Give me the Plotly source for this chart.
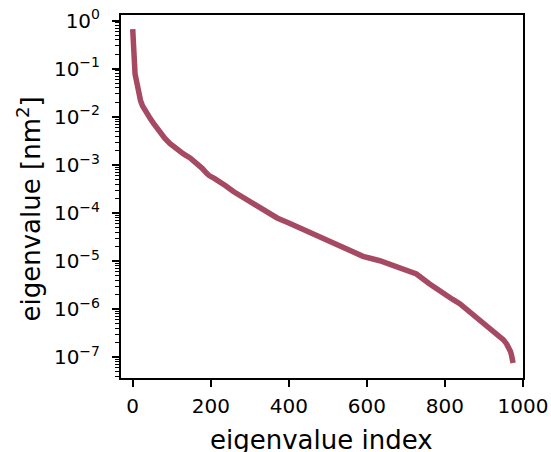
import plotly.graph_objects as go

eig_index = [0, 1, 2, 3, 4, 6, 8, 10, 12, 15, 20, 25, 31, 38, 45, 53, 61, 70, 82, 95,
             110, 130, 147, 164, 178, 189, 196, 210, 224, 238, 258, 288, 315, 343, 370,
             400, 437, 460, 480, 505, 530, 556, 590, 633, 650, 676, 700, 727, 760, 795,
             820, 838, 855, 872, 890, 906, 925, 940, 950, 958, 964, 968, 971, 973, 974.5]
eig_value = [0.67, 0.30, 0.17, 0.12, 0.095, 0.078, 0.065, 0.052, 0.043, 0.033, 0.022, 0.017,
             0.0138, 0.0112, 0.0092, 0.0074, 0.0059, 0.0046, 0.0036, 0.0028,
             0.0022, 0.0017, 0.0014, 0.0011, 0.00085, 0.00068, 0.00060, 0.00052, 0.00045,
             0.00037, 0.00028, 0.00020, 0.000145, 0.000100, 0.000079,
             0.000062, 0.000045, 0.000038, 0.000032, 0.000026, 0.000020, 0.0000158,
             0.0000126, 0.0000102, 0.0000091, 0.0000078, 0.0000066, 0.0000054,
             0.0000034, 0.0000021, 0.0000016, 0.0000013, 0.0000010, 0.00000076,
             0.00000060, 0.00000047, 0.00000035, 0.00000027, 0.00000023, 0.00000019,
             0.000000158, 0.000000132, 0.000000107, 0.000000089, 0.000000076]

x_ticks = [0, 200, 400, 600, 800, 1000]
y_ticks = [1e0, 1e-1, 1e-2, 1e-3, 1e-4, 1e-5, 1e-6, 1e-7]
y_ticktext = ["10<sup>0</sup>", "10<sup>−1</sup>", "10<sup>−2</sup>", "10<sup>−3</sup>",
              "10<sup>−4</sup>", "10<sup>−5</sup>", "10<sup>−6</sup>", "10<sup>−7</sup>"]
y_minor = [m * 10.0 ** e for e in range(-8, 1) for m in range(2, 10)]
x_title = "eigenvalue index"
y_title = "eigenvalue [nm<sup>2</sup>]"

fig = go.Figure()
fig.add_trace(go.Scatter(x=eig_index, y=eig_value, mode="lines",
                         line=dict(color="#a64a64", width=5.5), showlegend=False))

font = "DejaVu Sans, sans-serif"
fig.update_layout(
    width=551, height=452,
    margin=dict(l=121, r=28, t=15, b=74, autoexpand=False),
    paper_bgcolor="white", plot_bgcolor="white",
    font=dict(family=font, color="black", size=20),
    xaxis=dict(range=[-30, 1000], tickmode="array", tickvals=x_ticks, automargin=False,
               ticks="outside", ticklen=7, tickwidth=2, tickcolor="black",
               ticklabelstandoff=2,
               showline=True, linewidth=2, linecolor="black", mirror=True,
               showgrid=False, zeroline=False,
               tickfont=dict(size=20, family=font)),
    yaxis=dict(type="log", range=[-7.43, 0.118], tickmode="array", tickvals=y_ticks,
               ticktext=y_ticktext, automargin=False,
               ticks="outside", ticklen=7, tickwidth=2, tickcolor="black",
               ticklabelstandoff=8,
               minor=dict(tickmode="array", tickvals=y_minor, ticks="outside", ticklen=4,
                          tickwidth=1.3, tickcolor="black", showgrid=False),
               showline=True, linewidth=2, linecolor="black", mirror=True,
               showgrid=False, zeroline=False,
               tickfont=dict(size=20, family=font)),
    annotations=[
        dict(text=x_title, xref="paper", yref="paper", x=0.498, y=-0.171,
             xanchor="center", yanchor="middle", showarrow=False,
             font=dict(size=26, family=font, color="black")),
        dict(text=y_title, xref="paper", yref="paper", x=-0.2264, y=0.467,
             xanchor="center", yanchor="middle", showarrow=False, textangle=-90,
             font=dict(size=26, family=font, color="black")),
    ],
)

fig.write_html("out.html")
